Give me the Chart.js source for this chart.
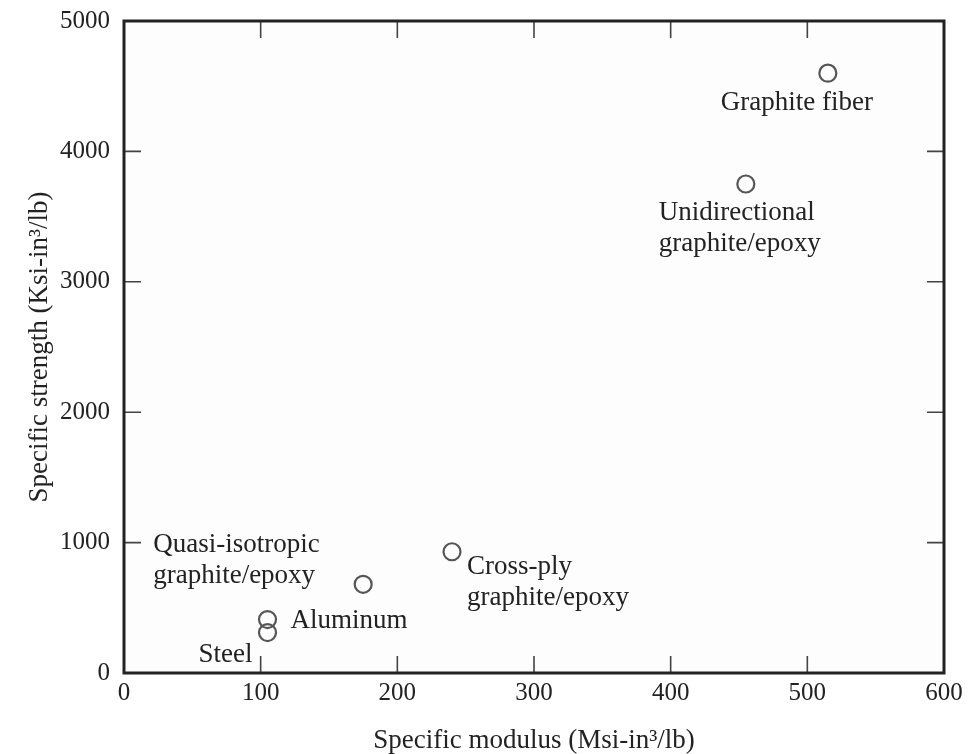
<!DOCTYPE html>
<html>
<head>
<meta charset="utf-8">
<script src="https://cdn.jsdelivr.net/npm/chart.js@4"></script>
<style>
  body { margin: 0; background: #fff; }
  #wrap { width: 972px; height: 754px; }
</style>
</head>
<body>
<div id="wrap"><canvas id="chart"></canvas></div>
<script>
// Materials and their specific properties
const materials = ['Graphite fiber', 'Unidirectional graphite/epoxy', 'Cross-ply graphite/epoxy',
    'Quasi-isotropic graphite/epoxy', 'Aluminum', 'Steel'];
const specificModulus = [515, 455, 240, 175, 105, 105];
const specificStrength = [4600, 3750, 930, 680, 410, 310];
const labelLines = [
    ['Graphite fiber'],
    ['Unidirectional', 'graphite/epoxy'],
    ['Cross-ply', 'graphite/epoxy'],
    ['Quasi-isotropic', 'graphite/epoxy'],
    ['Aluminum'],
    ['Steel']
];
const xTicks = [0, 100, 200, 300, 400, 500, 600];
const yTicks = [0, 1000, 2000, 3000, 4000, 5000];

const serif = '"Liberation Serif", "Times New Roman", serif';
const ink = '#222';

// where each label sits relative to its point (px)
const labelLayout = [
    { dx: -31, dy: 30, align: 'center' },
    { dx: -87, dy: 29, align: 'left' },
    { dx: 15, dy: 15, align: 'left' },
    { dx: -210, dy: -39, align: 'left' },
    { dx: 23, dy: 1, align: 'left' },
    { dx: -15, dy: 22, align: 'right' }
];

const frameAndLabels = {
    id: 'frameAndLabels',
    beforeDraw(chart) {
        const { ctx, chartArea: a } = chart;
        ctx.save();
        ctx.fillStyle = '#fdfdfd';
        ctx.fillRect(a.left, a.top, a.right - a.left, a.bottom - a.top);
        ctx.restore();
    },
    afterDraw(chart) {
        const { ctx, chartArea: a, scales } = chart;
        ctx.save();
        // inward ticks on all four sides
        ctx.strokeStyle = '#444';
        ctx.lineWidth = 1.6;
        const len = 17;
        scales.x.ticks.forEach(t => {
            const px = scales.x.getPixelForValue(t.value);
            if (t.value === xTicks[0] || t.value === xTicks[xTicks.length - 1]) return;
            ctx.beginPath();
            ctx.moveTo(px, a.bottom); ctx.lineTo(px, a.bottom - len);
            ctx.moveTo(px, a.top); ctx.lineTo(px, a.top + len);
            ctx.stroke();
        });
        scales.y.ticks.forEach(t => {
            const py = scales.y.getPixelForValue(t.value);
            if (t.value === yTicks[0] || t.value === yTicks[yTicks.length - 1]) return;
            ctx.beginPath();
            ctx.moveTo(a.left, py); ctx.lineTo(a.left + len, py);
            ctx.moveTo(a.right, py); ctx.lineTo(a.right - len, py);
            ctx.stroke();
        });
        // frame
        ctx.strokeStyle = '#222';
        ctx.lineWidth = 3;
        ctx.strokeRect(a.left, a.top, a.right - a.left, a.bottom - a.top);

        // point labels
        const meta = chart.getDatasetMeta(0);
        ctx.fillStyle = ink;
        ctx.font = '27px ' + serif;
        ctx.textBaseline = 'middle';
        meta.data.forEach((pt, i) => {
            const l = labelLayout[i];
            ctx.textAlign = l.align;
            labelLines[i].forEach((line, j) => {
                ctx.fillText(line, pt.x + l.dx, pt.y + l.dy + j * 31);
            });
        });
        ctx.restore();
    }
};

new Chart(document.getElementById('chart'), {
    type: 'scatter',
    data: {
        labels: materials,
        datasets: [{
            label: 'Materials',
            data: specificModulus.map((x, i) => ({ x: x, y: specificStrength[i] })),
            pointStyle: 'circle',
            pointRadius: 8.5,
            pointHoverRadius: 8.5,
            pointBorderWidth: 2.2,
            pointBorderColor: '#555',
            pointBackgroundColor: 'rgba(255,255,255,0)'
        }]
    },
    options: {
        responsive: true,
        maintainAspectRatio: false,
        animation: false,
        layout: { padding: { left: 0, right: 28, top: 21, bottom: 0 } },
        plugins: {
            legend: { display: false },
            tooltip: { enabled: false }
        },
        scales: {
            x: {
                type: 'linear',
                min: xTicks[0],
                max: xTicks[xTicks.length - 1],
                afterBuildTicks: s => { s.ticks = xTicks.map(v => ({ value: v })); },
                afterFit: s => { s.height = 81; s.paddingLeft = 0; s.paddingRight = 0; },
                grid: { display: false, drawTicks: false },
                border: { display: false },
                ticks: { color: ink, font: { family: serif, size: 25 }, padding: 5, maxRotation: 0,
                    callback: v => String(v) },
                title: {
                    display: true,
                    text: 'Specific modulus (Msi-in³/lb)',
                    color: ink,
                    font: { family: serif, size: 27, lineHeight: 1 },
                    padding: { top: 0, bottom: 0 }
                }
            },
            y: {
                type: 'linear',
                min: yTicks[0],
                max: yTicks[yTicks.length - 1],
                afterBuildTicks: s => { s.ticks = yTicks.map(v => ({ value: v })); },
                afterFit: s => { s.width = 124; s.paddingTop = 0; s.paddingBottom = 0; },
                grid: { display: false, drawTicks: false },
                border: { display: false },
                ticks: { color: ink, font: { family: serif, size: 25 }, padding: 14,
                    callback: v => String(v) },
                title: {
                    display: true,
                    text: 'Specific strength (Ksi-in³/lb)',
                    color: ink,
                    font: { family: serif, size: 27 },
                    padding: { top: 24, bottom: 0 }
                }
            }
        }
    },
    plugins: [frameAndLabels]
});
</script>
</body>
</html>
